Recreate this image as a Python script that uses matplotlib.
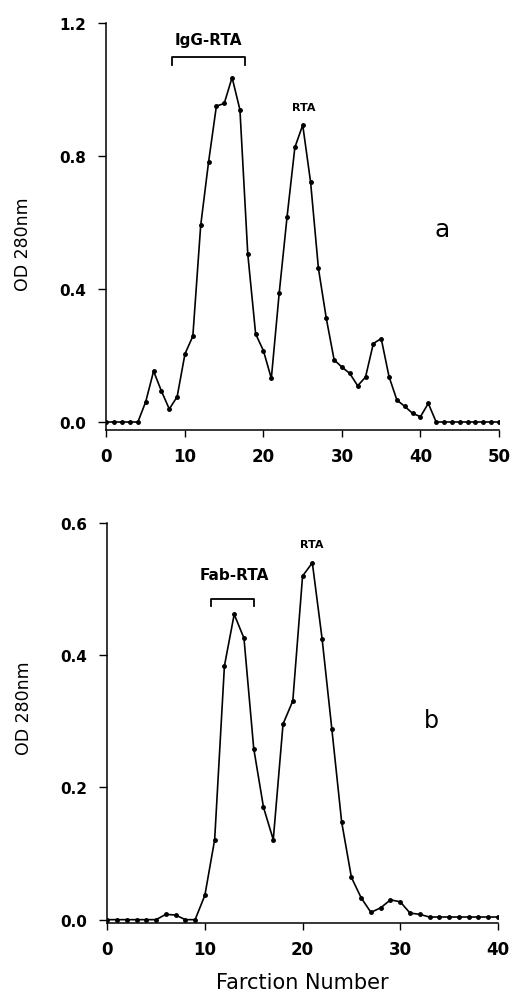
import matplotlib
matplotlib.use('Agg')
import matplotlib.pyplot as plt

# panel a: IgG-RTA run, fractions 0-50
frac_a = list(range(0, 51))
od_a = [0, 0, 0, 0, 0, 0.061, 0.153, 0.093, 0.039, 0.076,
        0.205, 0.258, 0.591, 0.781, 0.950, 0.958, 1.036, 0.939, 0.505, 0.265,
        0.214, 0.131, 0.387, 0.616, 0.826, 0.893, 0.722, 0.462, 0.312, 0.187,
        0.165, 0.146, 0.109, 0.135, 0.236, 0.251, 0.136, 0.066, 0.047, 0.026,
        0.016, 0.056, 0, 0, 0, 0, 0, 0, 0, 0, 0]

# panel b: Fab-RTA run, fractions 0-40
frac_b = list(range(0, 41))
od_b = [0, 0, 0, 0, 0, 0, 0.008, 0.007, 0, 0,
        0.037, 0.121, 0.384, 0.462, 0.426, 0.259, 0.170, 0.121, 0.296, 0.331,
        0.520, 0.540, 0.425, 0.288, 0.148, 0.064, 0.033, 0.011, 0.018, 0.030,
        0.027, 0.010, 0.008, 0.004, 0.004, 0.004, 0.004, 0.004, 0.004, 0.004,
        0.004]

yticks_a = [0.0, 0.4, 0.8, 1.2]
yticks_b = [0.0, 0.2, 0.4, 0.6]
xticks_a = [0, 10, 20, 30, 40, 50]
xticks_b = [0, 10, 20, 30, 40]

fig = plt.figure(figsize=(5.13, 10.03), dpi=100)
ax1 = fig.add_axes([0.2076, 0.5703, 0.765, 0.4058])
ax2 = fig.add_axes([0.209, 0.0788, 0.7616, 0.3986])


def style(ax, xt, yt):
    for s in ['top', 'right']:
        ax.spines[s].set_visible(False)
    for s in ['left', 'bottom']:
        ax.spines[s].set_linewidth(1.1)
    ax.set_xticks(xt)
    ax.set_yticks(yt)
    ax.set_yticklabels(['%.1f' % v for v in yt])
    ax.tick_params(axis='y', direction='out', length=5.5, width=1, labelsize=11, pad=9)
    ax.tick_params(axis='x', direction='out', length=5, width=1, labelsize=12, pad=7)
    for lab in ax.get_xticklabels() + ax.get_yticklabels():
        lab.set_fontweight('bold')


ax1.plot(frac_a, od_a, '-', color='black', lw=1.2, marker='o', ms=2.5)
ax1.set_xlim(0, 50)
ax1.set_ylim(-0.024, 1.2)
style(ax1, xticks_a, yticks_a)
ax1.set_ylabel('OD 280nm', fontsize=12.5)
ax1.yaxis.set_label_coords(-0.19, 0.46)
ax1.plot([8.3, 8.3, 17.6, 17.6], [1.075, 1.097, 1.097, 1.075], color='black', lw=1.3)
ax1.text(13.0, 1.15, 'IgG-RTA', ha='center', va='center', fontsize=11, fontweight='bold')
ax1.text(25.1, 0.946, 'RTA', ha='center', va='center', fontsize=8, fontweight='bold')
ax1.text(42.7, 0.58, 'a', ha='center', va='center', fontsize=18)

ax2.plot(frac_b, od_b, '-', color='black', lw=1.2, marker='o', ms=2.5)
ax2.set_xlim(0, 40)
ax2.set_ylim(-0.005, 0.6)
style(ax2, xticks_b, yticks_b)
ax2.set_ylabel('OD 280nm', fontsize=12.5)
ax2.yaxis.set_label_coords(-0.19, 0.54)
ax2.set_xlabel('Farction Number', fontsize=15, labelpad=10)
ax2.plot([10.6, 10.6, 15.0, 15.0], [0.474, 0.486, 0.486, 0.474], color='black', lw=1.3)
ax2.text(13.0, 0.523, 'Fab-RTA', ha='center', va='center', fontsize=11, fontweight='bold')
ax2.text(20.95, 0.568, 'RTA', ha='center', va='center', fontsize=8, fontweight='bold')
ax2.text(33.2, 0.302, 'b', ha='center', va='center', fontsize=17)

fig.savefig('out.png', dpi=100)
